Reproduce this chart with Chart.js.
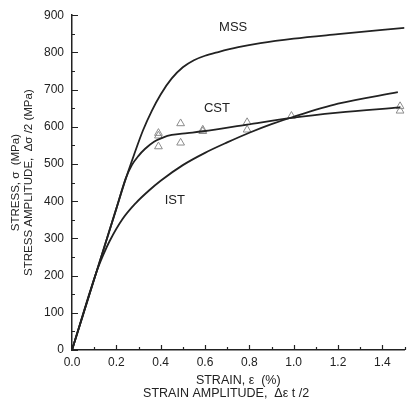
<!DOCTYPE html>
<html>
<head>
<meta charset="utf-8">
<script src="https://cdn.jsdelivr.net/npm/chart.js@4.4.1/dist/chart.umd.min.js"></script>
<style>
  html, body { margin: 0; padding: 0; background: #fff; }
  #wrap { width: 410px; height: 408px; }
</style>
</head>
<body>
<div id="wrap"><canvas id="c" width="410" height="408"></canvas></div>
<script>
// Monotonic tension curve (MSS)
const mssStrain = [0, 0.10, 0.20, 0.24, 0.28, 0.32, 0.36, 0.40, 0.45, 0.50, 0.55, 0.60, 0.66, 0.75, 0.85, 1.00, 1.20, 1.50];
const mssStress = [0, 190, 380, 456, 525, 590, 643, 687, 730, 760, 779, 791, 801, 814, 825, 837, 849, 866];

// Cyclic stress-strain curve (CST)
const cstStrain = [0, 0.10, 0.20, 0.243, 0.27, 0.30, 0.33, 0.37, 0.41, 0.45, 0.52, 0.59, 0.79, 0.99, 1.20, 1.48];
const cstStress = [0, 190, 380, 462, 497, 522, 541, 560, 571, 578, 583, 588, 606, 624, 638, 652];

// Incremental step test curve (IST)
const istStrain = [0, 0.11, 0.14, 0.17, 0.228, 0.288, 0.346, 0.40, 0.50, 0.60, 0.70, 0.80, 0.90, 1.00, 1.20, 1.47];
const istStress = [0, 209, 254, 293, 352, 395, 428, 455, 497, 530, 558, 584, 607, 627, 662, 693];

// Measured cyclic amplitudes
const ampStrain = [0.39, 0.39, 0.39, 0.49, 0.49, 0.59, 0.59, 0.79, 0.79, 0.99, 1.48, 1.48];
const ampStress = [583, 576, 547, 609, 557, 592, 588, 612, 592, 629, 655, 643];

// Curve labels, placed in data coordinates
const curveNames = ['MSS', 'CST', 'IST'];
const nameStrain = [0.727, 0.654, 0.464];
const nameStress = [868, 649, 403];

// Axis ticks
const xTickValues = [0, 0.2, 0.4, 0.6, 0.8, 1.0, 1.2, 1.4];
const yTickValues = [0, 100, 200, 300, 400, 500, 600, 700, 800, 900];

const pts = (xs, ys) => xs.map((x, i) => ({ x: x, y: ys[i] }));

const INK = '#222';
const FONT = 'Liberation Sans, Arial, sans-serif';

const lineStyle = {
  type: 'line',
  borderColor: INK,
  borderWidth: 1.8,
  pointRadius: 0,
  fill: false,
  cubicInterpolationMode: 'monotone'
};

// Inward major/minor tick marks and curve names
const decorations = {
  id: 'decorations',
  afterDraw(chart) {
    const ctx = chart.ctx;
    const xs = chart.scales.x, ys = chart.scales.y;
    const area = chart.chartArea;
    ctx.save();
    ctx.strokeStyle = INK;
    ctx.lineWidth = 1.2;
    ctx.beginPath();
    for (let i = 0; i <= 15; i++) {
      const px = Math.round(xs.getPixelForValue(i / 10)) + 0.5;
      const len = i % 2 === 0 ? 5 : 3;
      ctx.moveTo(px, area.bottom);
      ctx.lineTo(px, area.bottom - len);
    }
    for (let i = 0; i <= 18; i++) {
      const py = Math.round(ys.getPixelForValue(i * 50)) + 0.5;
      const len = i % 2 === 0 ? 6 : 3;
      ctx.moveTo(area.left, py);
      ctx.lineTo(area.left + len, py);
    }
    ctx.stroke();

    ctx.fillStyle = INK;
    ctx.font = '13px ' + FONT;
    ctx.textAlign = 'center';
    ctx.textBaseline = 'middle';
    curveNames.forEach((name, i) => {
      ctx.fillText(name, xs.getPixelForValue(nameStrain[i]), ys.getPixelForValue(nameStress[i]));
    });
    ctx.restore();
  }
};

new Chart(document.getElementById('c'), {
  type: 'scatter',
  data: {
    datasets: [
      Object.assign({ label: 'MSS', data: pts(mssStrain, mssStress) }, lineStyle),
      Object.assign({ label: 'CST', data: pts(cstStrain, cstStress) }, lineStyle),
      Object.assign({ label: 'IST', data: pts(istStrain, istStress) }, lineStyle),
      {
        type: 'scatter',
        label: 'amplitudes',
        data: pts(ampStrain, ampStress),
        pointStyle: 'triangle',
        pointRadius: 4.5,
        borderColor: '#8c8c8c',
        backgroundColor: 'rgba(0,0,0,0)',
        borderWidth: 1
      }
    ]
  },
  options: {
    responsive: false,
    animation: false,
    devicePixelRatio: 1,
    layout: { padding: { top: 13, right: 0, bottom: 0, left: 0 } },
    plugins: { legend: { display: false }, tooltip: { enabled: false } },
    scales: {
      x: {
        type: 'linear',
        min: 0,
        max: 1.5,
        afterFit(scale) { scale.height = 58; },
        afterBuildTicks(scale) { scale.ticks = xTickValues.map(v => ({ value: v })); },
        grid: { display: false, drawTicks: false },
        border: { display: true, color: INK, width: 1.5 },
        ticks: {
          padding: 5,
          color: INK,
          font: { family: FONT, size: 12 },
          callback: v => v.toFixed(1)
        },
        title: {
          display: true,
          text: ['STRAIN, \u03b5  (%)', 'STRAIN AMPLITUDE,  \u0394\u03b5 t /2       '],
          color: INK,
          font: { family: FONT, size: 12.5, lineHeight: 1.05 },
          padding: { top: 0, bottom: 8 }
        }
      },
      y: {
        type: 'linear',
        min: 0,
        max: 900,
        afterFit(scale) { scale.width = 72; },
        afterBuildTicks(scale) { scale.ticks = yTickValues.map(v => ({ value: v })); },
        grid: { display: false, drawTicks: false },
        border: { display: true, color: INK, width: 1.5 },
        ticks: {
          padding: 8,
          color: INK,
          font: { family: FONT, size: 12 }
        },
        title: {
          display: true,
          text: ['STRESS, \u03c3  (MPa)', 'STRESS AMPLITUDE,  \u0394\u03c3 /2 (MPa)'],
          color: INK,
          font: { family: FONT, size: 11.5, lineHeight: 1.1 },
          padding: { top: 10, bottom: 0 }
        }
      }
    }
  },
  plugins: [decorations]
});
</script>
</body>
</html>
